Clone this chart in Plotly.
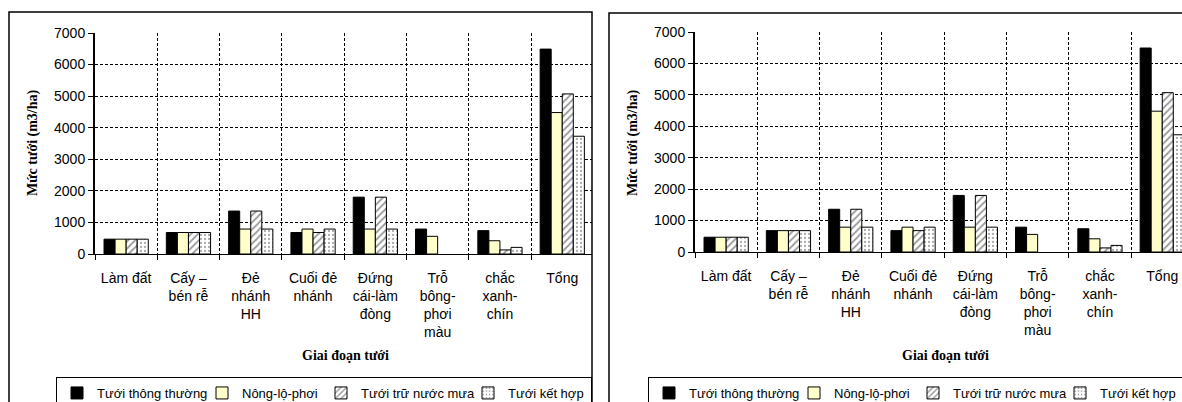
import plotly.graph_objects as go

W, H = 1182, 402

categories = [
    "Làm đất",
    "Cấy –<br>bén rễ",
    "Đẻ<br>nhánh<br>HH",
    "Cuối đẻ<br>nhánh",
    "Đứng<br>cái-làm<br>đòng",
    "Trỗ<br>bông-<br>phơi<br>màu",
    "chắc<br>xanh-<br>chín",
    "Tổng",
]
series_names = ["Tưới thông thường", "Nông-lộ-phơi", "Tưới trữ nước mưa", "Tưới kết hợp"]
tuoi_thong_thuong = [470, 680, 1360, 680, 1800, 790, 740, 6490]
nong_lo_phoi = [470, 680, 790, 790, 790, 560, 420, 4480]
tuoi_tru_nuoc_mua = [470, 680, 1360, 680, 1800, None, 130, 5070]
tuoi_ket_hop = [470, 680, 790, 790, 790, None, 210, 3730]
series_values = [tuoi_thong_thuong, nong_lo_phoi, tuoi_tru_nuoc_mua, tuoi_ket_hop]
y_ticks = [0, 1000, 2000, 3000, 4000, 5000, 6000, 7000]

styles = [
    dict(color="black", pattern=None, lw=100),
    dict(color="#FFFFCC", pattern=None, lw=74),
    dict(color="white", pattern=dict(shape="/", fgcolor="#333333", bgcolor="white", size=5, solidity=0.35), lw=102),
    dict(color="white", pattern=dict(shape=".", fgcolor="#555555", bgcolor="white", size=4, solidity=0.25), lw=78),
]

fig = go.Figure()

panels = [
    dict(xa="x", ya="y", legend="legend", x0=95, x1=592, y0=254, y7=33),
    dict(xa="x2", ya="y2", legend="legend2", x0=695, x1=W, y0=252, y7=32),
]
catw = 62.3

for p in panels:
    for name, vals, st in zip(series_names, series_values, styles):
        marker = dict(color=st["color"], line=dict(color="black", width=1))
        if st["pattern"]:
            marker["pattern"] = st["pattern"]
        fig.add_trace(go.Bar(
            x=categories, y=vals, name=name, marker=marker,
            xaxis=p["xa"], yaxis=p["ya"], legend=p["legend"],
            legendwidth=st["lw"], hoverinfo="skip",
        ))

axis_font = dict(family="Liberation Sans, Arial", size=14, color="black")
title_font = dict(family="Liberation Serif, Times New Roman", size=14, color="black")

layout = dict(
    width=W, height=H,
    margin=dict(l=0, r=0, t=0, b=0, autoexpand=False),
    paper_bgcolor="white", plot_bgcolor="white",
    barmode="group", bargap=0.29, bargroupgap=0,
    showlegend=True,
)

for i, p in enumerate(panels):
    sfx = "" if i == 0 else "2"
    xr = [-0.5, -0.5 + (p["x1"] - p["x0"]) / catw]
    layout["xaxis" + sfx] = dict(
        type="category", domain=[p["x0"] / W, p["x1"] / W], range=xr,
        anchor="y" + sfx, tickson="boundaries", ticks="outside", ticklen=5,
        tickcolor="black", showline=True, linecolor="black", linewidth=1,
        showgrid=True, gridcolor="black", gridwidth=1, griddash="3px,2px",
        tickfont=axis_font, tickangle=0, ticklabelstandoff=11, fixedrange=True,
        automargin=False,
    )
    layout["yaxis" + sfx] = dict(
        domain=[(H - p["y0"]) / H, (H - p["y7"]) / H], range=[0, 7000],
        anchor="x" + sfx, tickvals=y_ticks, ticks="outside", ticklen=5,
        tickcolor="black", showline=True, linecolor="black", linewidth=2,
        showgrid=True, gridcolor="black", gridwidth=1, griddash="3px,2px",
        tickfont=axis_font, zeroline=False, fixedrange=True, automargin=False,
    )

legend_common = dict(
    orientation="h", xanchor="left", yanchor="top",
    bgcolor="white", bordercolor="black", borderwidth=1,
    font=dict(family="Liberation Sans, Arial", size=13, color="black"),
    itemwidth=30, traceorder="normal",
)
layout["legend"] = dict(legend_common, x=56 / W, y=(H - 377) / H)
layout["legend2"] = dict(legend_common, x=648 / W, y=(H - 377) / H)

fig.update_layout(**layout)

# outer chart boxes
fig.add_shape(type="rect", xref="paper", yref="paper",
              x0=9 / W, x1=592 / W, y0=-0.1, y1=(H - 12) / H,
              line=dict(color="black", width=1.5), layer="above")
fig.add_shape(type="rect", xref="paper", yref="paper",
              x0=609 / W, x1=1.2, y0=-0.1, y1=(H - 13) / H,
              line=dict(color="black", width=1.5), layer="above")

# axis titles
for cx, ycx in [(33, 345), (633, 945)]:
    fig.add_annotation(xref="paper", yref="paper", x=cx / W, y=(H - 143) / H,
                       text="<b>Mức tưới (m3/ha)</b>", textangle=-90, showarrow=False,
                       font=title_font, xanchor="center", yanchor="middle")
    fig.add_annotation(xref="paper", yref="paper", x=ycx / W, y=(H - 355) / H,
                       text="<b>Giai đoạn tưới</b>", showarrow=False,
                       font=title_font, xanchor="center", yanchor="middle")

fig.write_html("out.html", config={"displayModeBar": False},
               post_script="document.body.style.margin='0';document.body.style.overflow='hidden';")
